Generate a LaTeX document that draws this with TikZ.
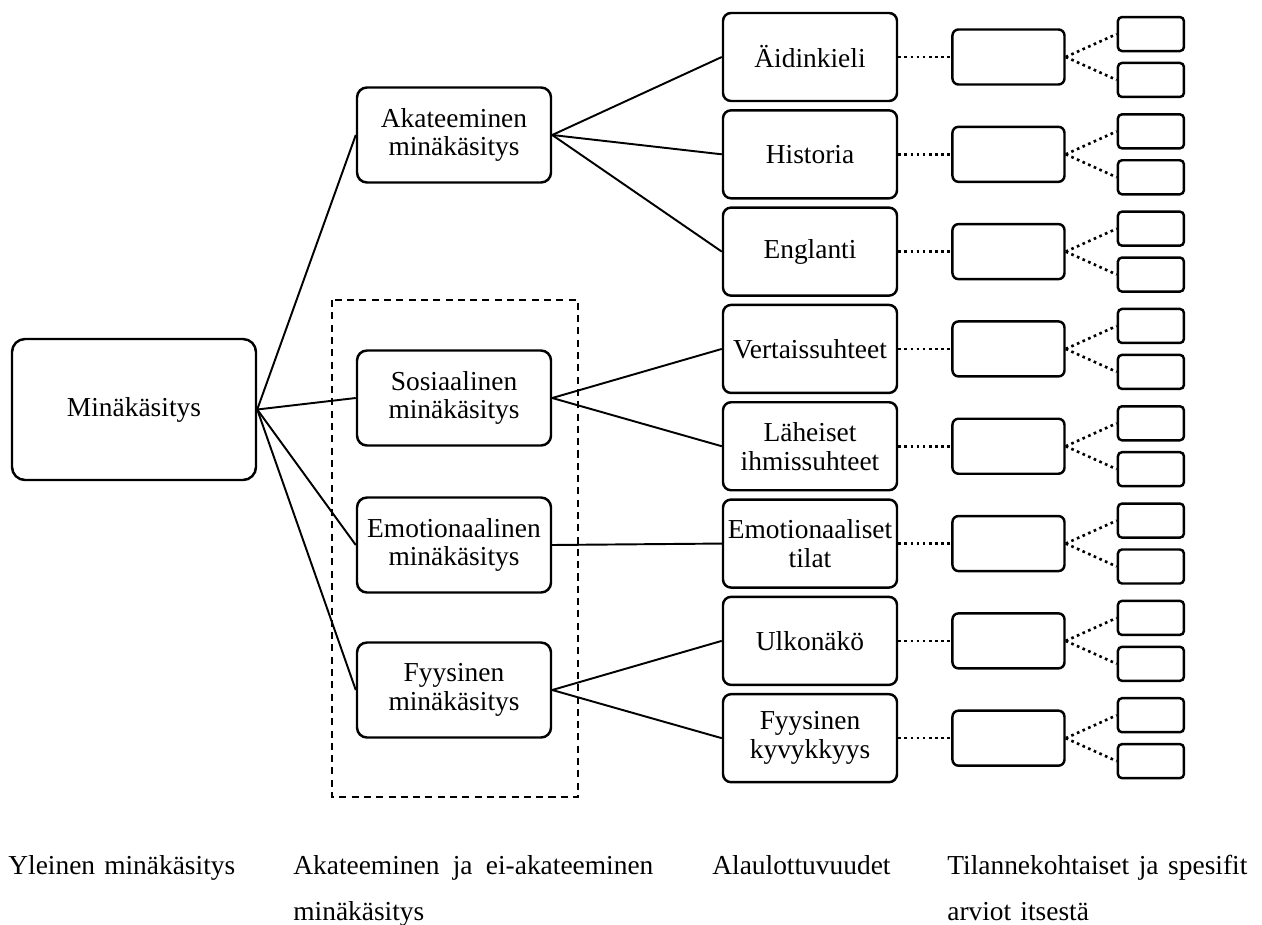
\documentclass[tikz,border=0pt]{standalone}
\usepackage{fontspec}
\setmainfont{Liberation Serif}
\usepackage{tikz}
\usetikzlibrary{positioning}
\tikzstyle{link} = [line width=1.1pt]
\tikzstyle{dotlink} = [line width=1.5pt, dash pattern=on 1.5pt off 2pt]
\tikzstyle{rootbox} = [
    rectangle, rounded corners=0.26cm, minimum width=4.88cm, minimum height=2.82cm,
    align=center, draw=black, line width=1.4pt, font=\fontsize{15.6}{16.4}\selectfont]
\tikzstyle{domainbox} = [
    rectangle, rounded corners=0.2cm, minimum width=3.88cm, minimum height=1.9cm,
    align=center, draw=black, line width=1.4pt, font=\fontsize{15.6}{16.4}\selectfont]
\tikzstyle{subbox} = [
    rectangle, rounded corners=0.16cm, minimum width=3.48cm, minimum height=1.76cm,
    inner sep=2pt, align=center, draw=black, line width=1.4pt, font=\fontsize{15.6}{16.4}\selectfont]
\tikzstyle{situbox} = [
    rectangle, rounded corners=0.12cm, minimum width=2.24cm, minimum height=1.1cm,
    draw=black, line width=1.4pt]
\tikzstyle{specbox} = [
    rectangle, rounded corners=0.08cm, minimum width=1.32cm, minimum height=0.68cm,
    draw=black, line width=1.4pt]
\tikzstyle{caption} = [
    anchor=north west, inner sep=0pt, align=left, font=\fontsize{15.6}{26.2}\selectfont]

\begin{document}
\begin{tikzpicture}
\useasboundingbox (0,0) rectangle (25.24,-18.48);

\node (yleinen) [rootbox] at (2.68,-8.19) {Minäkäsitys};

\node (akateeminen) [domainbox] at (9.08,-2.7) {Akateeminen\\minäkäsitys};
\node (sosiaalinen) [domainbox] at (9.08,-7.96) {Sosiaalinen\\minäkäsitys};
\node (emotionaalinen) [domainbox] at (9.08,-10.9) {Emotionaalinen\\minäkäsitys};
\node (fyysinen) [domainbox] at (9.08,-13.8) {Fyysinen\\minäkäsitys};

\draw [dash pattern=on 4pt off 3pt, line width=1.2pt] (6.64,-6.0) rectangle (11.56,-15.94);

\node (aidinkieli) [subbox] at (16.2,-1.14) {Äidinkieli};
\node (historia) [subbox, below=0.137cm of aidinkieli] {Historia};
\node (englanti) [subbox, below=0.137cm of historia] {Englanti};
\node (vertais) [subbox, below=0.137cm of englanti] {Vertaissuhteet};
\node (laheiset) [subbox, below=0.137cm of vertais] {Läheiset\\ihmissuhteet};
\node (tilat) [subbox, below=0.137cm of laheiset] {Emotionaaliset\\tilat};
\node (ulkonako) [subbox, below=0.137cm of tilat] {Ulkonäkö};
\node (kyvykkyys) [subbox, below=0.137cm of ulkonako] {Fyysinen\\kyvykkyys};

\draw [link] (yleinen.east) -- (akateeminen.west);
\draw [link] (yleinen.east) -- (sosiaalinen.west);
\draw [link] (yleinen.east) -- (emotionaalinen.west);
\draw [link] (yleinen.east) -- (fyysinen.west);

\draw [link] (akateeminen.east) -- (aidinkieli.west);
\draw [link] (akateeminen.east) -- (historia.west);
\draw [link] (akateeminen.east) -- (englanti.west);
\draw [link] (sosiaalinen.east) -- (vertais.west);
\draw [link] (sosiaalinen.east) -- (laheiset.west);
\draw [link] (emotionaalinen.east) -- (tilat.west);
\draw [link] (fyysinen.east) -- (ulkonako.west);
\draw [link] (fyysinen.east) -- (kyvykkyys.west);

\foreach \sub in {aidinkieli, historia, englanti, vertais, laheiset, tilat, ulkonako, kyvykkyys} {
    \node (\sub-arvio) [situbox, right=1.06cm of \sub] {};
    \node (\sub-arvio-a) [specbox, above right=-0.48cm and 1.02cm of \sub-arvio] {};
    \node (\sub-arvio-b) [specbox, below right=-0.48cm and 1.02cm of \sub-arvio] {};
    \draw [dotlink] (\sub.east) -- (\sub-arvio.west);
    \draw [dotlink] (\sub-arvio.east) -- (\sub-arvio-a.west);
    \draw [dotlink] (\sub-arvio.east) -- (\sub-arvio-b.west);
}

\node (taso-yleinen) [caption, text width=4.6cm] at (0.16,-17.1) {Yleinen minäkäsitys};
\node (taso-alue) [caption, text width=7.2cm] at (5.86,-17.1)
    {Akateeminen \hfill ja \hfill ei-akateeminen\\minäkäsitys};
\node (taso-ala) [caption, text width=3.8cm] at (14.24,-17.1) {Alaulottuvuudet};
\node (taso-arvio) [caption, text width=6.0cm] at (18.94,-17.1)
    {Tilannekohtaiset \hfill ja \hfill spesifit\\arviot itsestä};
\end{tikzpicture}
\end{document}
